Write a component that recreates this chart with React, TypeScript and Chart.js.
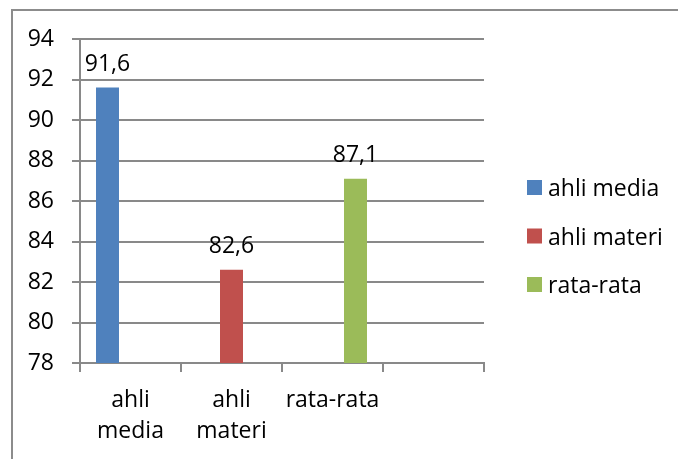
import React, { useEffect, useRef } from "react";
import { Chart, registerables } from "chart.js";

Chart.register(...registerables);

// Category labels along the x axis (the fourth slot is left empty)
const categories: (string | string[])[] = [["ahli", "media"], ["ahli", "materi"], "rata-rata", ""];

// One series per group, each holding a single value in its own category
const seriesNames = ["ahli media", "ahli materi", "rata-rata"];
const ahliMedia = [91.6, null, null, null];
const ahliMateri = [null, 82.6, null, null];
const rataRata = [null, null, 87.1, null];
const seriesColors = ["#4F81BD", "#C0504D", "#9BBB59"];

// Value axis range
const yMin = 78;
const yMax = 94;
const yStep = 2;

const FONT = "'Open Sans', 'Noto Sans', sans-serif";
const GRID = "#898989";

const fmt = (v: number) => v.toFixed(1).replace(".", ",");

// Outer frame around the whole chart
const framePlugin = {
  id: "frame",
  beforeDraw(chart: any) {
    const { ctx, width, height } = chart;
    ctx.save();
    ctx.fillStyle = "#ffffff";
    ctx.fillRect(0, 0, width, height);
    ctx.strokeStyle = "#8c8c8c";
    ctx.lineWidth = 2;
    ctx.strokeRect(12, 10, width + 20, height + 20);
    ctx.restore();
  },
};

// Value labels above each bar
const valueLabels = {
  id: "valueLabels",
  afterDatasetsDraw(chart: any) {
    const { ctx } = chart;
    ctx.save();
    ctx.font = `23px ${FONT}`;
    ctx.fillStyle = "#000";
    ctx.textAlign = "center";
    ctx.textBaseline = "alphabetic";
    chart.data.datasets.forEach((ds: any, i: number) => {
      const meta = chart.getDatasetMeta(i);
      meta.data.forEach((bar: any, j: number) => {
        const v = ds.data[j];
        if (v == null) return;
        ctx.fillText(fmt(v), bar.x, bar.y - 17);
      });
    });
    ctx.restore();
  },
};

// Legend to the right of the plot
const sideLegend = {
  id: "sideLegend",
  afterDraw(chart: any) {
    const { ctx, chartArea } = chart;
    const x = chartArea.right + 43;
    const top = chartArea.top + 141;
    const gap = 48.5;
    ctx.save();
    ctx.font = `23px ${FONT}`;
    ctx.textAlign = "left";
    ctx.textBaseline = "alphabetic";
    chart.data.datasets.forEach((ds: any, i: number) => {
      const y = top + i * gap;
      ctx.fillStyle = ds.backgroundColor;
      ctx.fillRect(x, y, 15, 15);
      ctx.fillStyle = "#000";
      ctx.fillText(ds.label, x + 21, y + 16);
    });
    ctx.restore();
  },
};

export default function App() {
  const ref = useRef<HTMLCanvasElement | null>(null);

  useEffect(() => {
    if (!ref.current) return;
    const values = [ahliMedia, ahliMateri, rataRata];
    const chart = new Chart(ref.current, {
      type: "bar",
      data: {
        labels: categories,
        datasets: seriesNames.map((name, i) => ({
          label: name,
          data: values[i],
          backgroundColor: seriesColors[i],
          borderWidth: 0,
          categoryPercentage: 0.683,
          barPercentage: 1,
        })),
      },
      options: {
        animation: false,
        responsive: true,
        maintainAspectRatio: false,
        layout: { padding: { left: 0, top: 39, right: 194, bottom: 0 } },
        plugins: {
          legend: { display: false },
          tooltip: { enabled: false },
        },
        scales: {
          x: {
            offset: true,
            grid: {
              display: true,
              offset: true,
              drawOnChartArea: false,
              drawTicks: true,
              tickLength: 9,
              color: GRID,
              lineWidth: 2,
            },
            border: { display: true, color: GRID, width: 2 },
            ticks: {
              color: "#000",
              padding: 13,
              maxRotation: 0,
              autoSkip: false,
              font: { family: FONT, size: 23, lineHeight: 1.35 },
            },
            afterFit(scale: any) {
              scale.height = 96;
            },
          },
          y: {
            min: yMin,
            max: yMax,
            grid: {
              color: GRID,
              lineWidth: 2,
              tickLength: 8,
              drawTicks: true,
            },
            border: { display: true, color: GRID, width: 2 },
            ticks: {
              stepSize: yStep,
              color: "#000",
              padding: 18,
              font: { family: FONT, size: 23 },
            },
            afterFit(scale: any) {
              scale.width = 80;
            },
          },
        },
      },
      plugins: [framePlugin, valueLabels, sideLegend],
    });
    return () => chart.destroy();
  }, []);

  return (
    <div style={{ position: "fixed", left: 0, top: 0, width: 678, height: 459 }}>
      <canvas ref={ref} />
    </div>
  );
}
